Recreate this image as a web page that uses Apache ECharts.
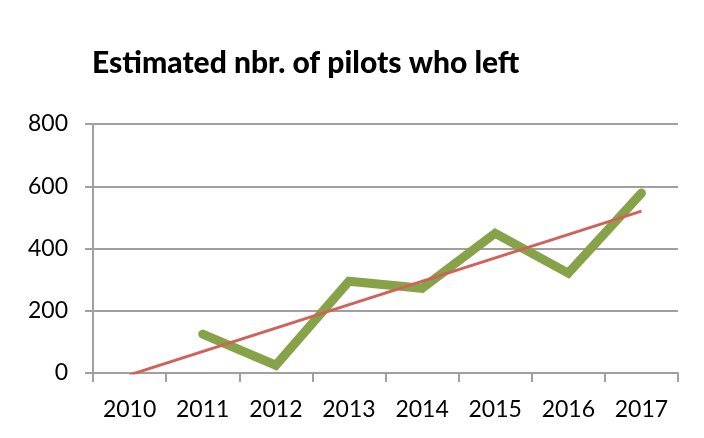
<!DOCTYPE html>
<html>
<head>
<meta charset="utf-8">
<script src="https://cdn.jsdelivr.net/npm/echarts@6/dist/echarts.min.js"></script>
<style>
  html, body { margin: 0; padding: 0; background: #fff; }
  #main { width: 704px; height: 438px; }
</style>
</head>
<body>
<div id="main"></div>
<script>
  // values
  var years = ['2010', '2011', '2012', '2013', '2014', '2015', '2016', '2017'];
  var pilotsLeft = [null, 125, 25, 295, 272, 449, 321, 578];
  // linear trendline endpoints (2010 and 2017), middle joined up
  var trend = [-6, null, null, null, null, null, null, 520];
  var yTicks = [0, 200, 400, 600, 800];

  var font = 'Lato';
  var chart = echarts.init(document.getElementById('main'));
  chart.setOption({
    animation: false,
    title: {
      text: 'Estimated nbr. of pilots who left',
      left: 87,
      top: 43,
      textStyle: { fontFamily: font, fontWeight: 900, fontSize: 30, color: '#000' }
    },
    grid: { left: 93, right: 26, top: 124, bottom: 65 },
    xAxis: {
      type: 'category',
      data: years,
      boundaryGap: true,
      axisLine: { lineStyle: { color: '#a0a0a0', width: 2 } },
      axisTick: { show: true, length: 9, lineStyle: { color: '#a0a0a0', width: 2 } },
      axisLabel: { color: '#000', fontFamily: font, fontSize: 23, margin: 25 }
    },
    yAxis: {
      type: 'value',
      min: yTicks[0],
      max: yTicks[yTicks.length - 1],
      interval: 200,
      axisLine: { show: true, lineStyle: { color: '#a0a0a0', width: 2 } },
      axisTick: { show: true, length: 8, lineStyle: { color: '#a0a0a0', width: 2 } },
      splitLine: { lineStyle: { color: '#a0a0a0', width: 2 } },
      axisLabel: { color: '#000', fontFamily: font, fontSize: 23, margin: 25 }
    },
    series: [
      {
        type: 'line',
        data: pilotsLeft,
        symbol: 'none',
        lineStyle: { color: '#87a34a', width: 9, cap: 'round', join: 'miter' },
        z: 2
      },
      {
        type: 'line',
        data: trend,
        connectNulls: true,
        symbol: 'none',
        lineStyle: { color: '#d0625a', width: 3 },
        z: 3
      }
    ]
  });
</script>
</body>
</html>
